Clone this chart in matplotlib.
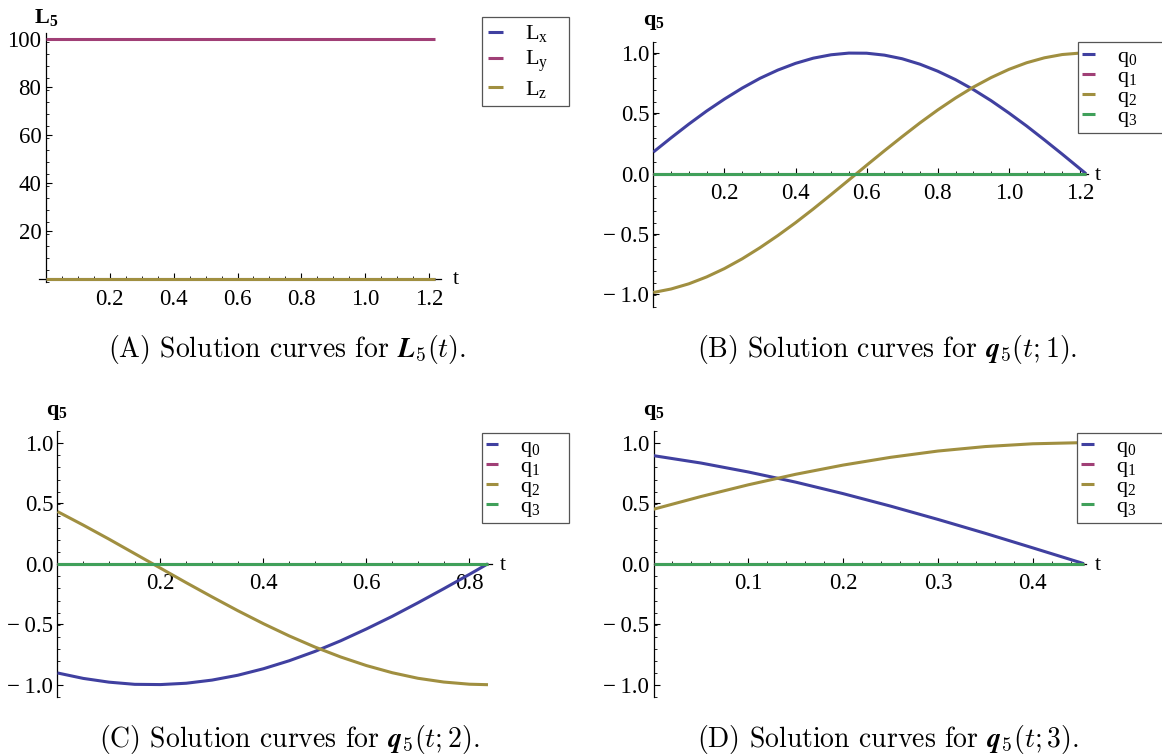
import numpy as np
import matplotlib
matplotlib.use("Agg")
import matplotlib.pyplot as plt
from matplotlib.ticker import FixedLocator, FixedFormatter, NullFormatter
from matplotlib.font_manager import FontProperties

plt.rcParams.update({
    "mathtext.fontset": "custom",
    "mathtext.rm": "Liberation Serif",
    "mathtext.it": "Liberation Serif:italic",
    "mathtext.bf": "Liberation Serif:bold",
    "font.family": "Liberation Serif",
})

# ---------------- data ----------------
# (A) angular momentum components
tA = [0.0, 1.218]
Lx = [0.0, 0.0]
Ly = [100.0, 100.0]
Lz = [0.0, 0.0]

# (B) quaternion components, case 1
tB = [0.00, 0.05, 0.10, 0.15, 0.20, 0.25, 0.30, 0.35, 0.40, 0.45, 0.50, 0.55,
      0.60, 0.65, 0.70, 0.75, 0.80, 0.85, 0.90, 0.95, 1.00, 1.05, 1.10, 1.15,
      1.20, 1.217]
q0B = [0.179, 0.297, 0.411, 0.519, 0.618, 0.709, 0.790, 0.858, 0.914, 0.957,
       0.985, 0.999, 0.998, 0.982, 0.952, 0.907, 0.849, 0.779, 0.697, 0.605,
       0.503, 0.395, 0.280, 0.162, 0.041, 0.000]
q2B = [-0.984, -0.955, -0.912, -0.855, -0.786, -0.705, -0.613, -0.513, -0.406,
       -0.292, -0.173, -0.052, 0.070, 0.190, 0.307, 0.421, 0.528, 0.627, 0.717,
       0.796, 0.864, 0.919, 0.960, 0.987, 0.999, 1.000]
tB_flat = [0.0, 1.217]
q1B = [0.0, 0.0]
q3B = [0.0, 0.0]

# (C) quaternion components, case 2
tC = [0.00, 0.05, 0.10, 0.15, 0.20, 0.25, 0.30, 0.35, 0.40, 0.45, 0.50, 0.55,
      0.60, 0.65, 0.70, 0.75, 0.80, 0.836]
q0C = [-0.903, -0.948, -0.979, -0.997, -0.999, -0.988, -0.962, -0.922, -0.868,
       -0.802, -0.725, -0.637, -0.539, -0.435, -0.323, -0.207, -0.088, 0.000]
q2C = [0.431, 0.319, 0.203, 0.083, -0.037, -0.157, -0.274, -0.388, -0.496,
       -0.597, -0.689, -0.771, -0.842, -0.901, -0.947, -0.978, -0.996, -1.000]
tC_flat = [0.0, 0.836]
q1C = [0.0, 0.0]
q3C = [0.0, 0.0]

# (D) quaternion components, case 3
tD = [0.00, 0.05, 0.10, 0.15, 0.20, 0.25, 0.30, 0.35, 0.40, 0.45, 0.454]
q0D = [0.893, 0.832, 0.758, 0.674, 0.579, 0.476, 0.366, 0.251, 0.131, 0.010, 0.000]
q2D = [0.450, 0.555, 0.652, 0.739, 0.815, 0.879, 0.931, 0.968, 0.991, 1.000, 1.000]
tD_flat = [0.0, 0.454]
q1D = [0.0, 0.0]
q3D = [0.0, 0.0]

# tick labels
L_yticks = [20, 40, 60, 80, 100]
L_ylabels = ["20", "40", "60", "80", "100"]
q_yticks = [-1.0, -0.5, 0.0, 0.5, 1.0]
q_ylabels = ["\u2212\u20091.0", "\u2212\u20090.5", "0.0", "0.5", "1.0"]
xticks_AB = [0.2, 0.4, 0.6, 0.8, 1.0, 1.2]
xlabels_AB = ["0.2", "0.4", "0.6", "0.8", "1.0", "1.2"]
xticks_C = [0.2, 0.4, 0.6, 0.8]
xlabels_C = ["0.2", "0.4", "0.6", "0.8"]
xticks_D = [0.1, 0.2, 0.3, 0.4]
xlabels_D = ["0.1", "0.2", "0.3", "0.4"]

L_names = [r"$\mathrm{L}_\mathrm{x}$", r"$\mathrm{L}_\mathrm{y}$", r"$\mathrm{L}_\mathrm{z}$"]
q_names = [r"$\mathrm{q}_0$", r"$\mathrm{q}_1$", r"$\mathrm{q}_2$", r"$\mathrm{q}_3$"]

COLORS = ["#4040a0", "#a03f76", "#a08f40", "#40a05a"]

# ---------------- layout ----------------
W, H = 1162, 756
fig = plt.figure(figsize=(W / 100, H / 100), dpi=100)

TICK_FP = FontProperties(family="Liberation Serif", size=16.5)
LEG_FP = FontProperties(family="Liberation Serif", size=16)
LW = 2.2


def minor_positions(lo, hi, step, majors):
    vals = np.round(np.arange(lo, hi + 1e-9, step), 6)
    return [v for v in vals if all(abs(v - m) > 1e-6 for m in majors) and abs(v) > 1e-9]


def panel(rect, xlim, ylim, xt, xl, xstep, yt, yl, ystep):
    l, t, r, b = rect
    ax = fig.add_axes([l / W, 1 - b / H, (r - l) / W, (b - t) / H])
    ax.set_xlim(*xlim)
    ax.set_ylim(*ylim)
    ax.patch.set_visible(False)
    for side in ("top", "right"):
        ax.spines[side].set_visible(False)
    for side in ("left", "bottom"):
        ax.spines[side].set_position(("data", 0))
        ax.spines[side].set_linewidth(0.9)
        ax.spines[side].set_zorder(1)
    ax.xaxis.set_major_locator(FixedLocator(xt))
    ax.xaxis.set_major_formatter(FixedFormatter(xl))
    ax.xaxis.set_minor_locator(FixedLocator(minor_positions(0, xlim[1], xstep, xt)))
    ax.xaxis.set_minor_formatter(NullFormatter())
    ax.yaxis.set_major_locator(FixedLocator(yt))
    ax.yaxis.set_major_formatter(FixedFormatter(yl))
    ax.yaxis.set_minor_locator(FixedLocator(minor_positions(ylim[0] if ylim[0] < -0.5 else 0,
                                                            ylim[1], ystep, yt)))
    ax.yaxis.set_minor_formatter(NullFormatter())
    ax.tick_params(which="both", direction="in", top=False, right=False, color="black")
    ax.tick_params(which="major", length=4.5, width=0.8)
    ax.tick_params(which="minor", length=2.5, width=0.6)
    ax.tick_params(axis="x", which="major", pad=7)
    ax.tick_params(axis="y", which="major", pad=3)
    for lab in ax.get_xticklabels() + ax.get_yticklabels():
        lab.set_fontproperties(TICK_FP)
    return ax


def legend(ax, x0, y0, w, hl, htp, ls, bp):
    leg = ax.legend(loc="upper left", bbox_to_anchor=(x0 / W, 1 - y0 / H, w / W, 0),
                    bbox_transform=fig.transFigure, mode="expand", borderaxespad=0,
                    fancybox=False, framealpha=1, edgecolor="#555555", prop=LEG_FP,
                    handlelength=hl, handletextpad=htp, labelspacing=ls, borderpad=bp)
    leg.get_frame().set_linewidth(0.9)
    return leg


def fig_text(x, y, s, **kw):
    fig.text(x / W, 1 - y / H, s, ha="center", va="center", **kw)


def curve(ax, t, v, color, label):
    ax.plot(t, v, color=color, lw=LW, label=label, zorder=3,
            solid_joinstyle="round", solid_capstyle="butt")


# (A)
axA = panel((38.8, 33.0, 441.0, 282.2), (-0.021, 1.236), (-1.2, 102.6),
            xticks_AB, xlabels_AB, 0.05, L_yticks, L_ylabels, 5)
for vals, name, c in zip([Lx, Ly, Lz], L_names, COLORS):
    curve(axA, tA, vals, c, name)
legend(axA, 481.7, 16.7, 87.5, 0.65, 1.0, 0.2, 0.3)
fig_text(46, 18, r"$\mathbf{L}_\mathbf{5}$", fontsize=16)
fig_text(456, 279, "t", fontsize=16)

# (B), (C), (D)
specs = [
    ((653.3, 41.5, 1087.8, 307.1), (0, 1.222), xticks_AB, xlabels_AB, 0.05,
     tB, q0B, q2B, tB_flat, q1B, q3B, 1078.3, 42.3, (654, 23), (1098, 176)),
    ((57.5, 431.2, 491.6, 697.4), (0, 0.843), xticks_C, xlabels_C, 0.05,
     tC, q0C, q2C, tC_flat, q1C, q3C, 481.5, 432.7, (57, 413), (503, 566)),
    ((653.5, 431.2, 1085.8, 697.4), (0, 0.456), xticks_D, xlabels_D, 0.02,
     tD, q0D, q2D, tD_flat, q1D, q3D, 1077.4, 432.7, (654, 413), (1098, 566)),
]
for (rect, xlim, xt, xl, xstep, t, q0, q2, tf, q1, q3, lx, ly, ylab, tlab) in specs:
    ax = panel(rect, xlim, (-1.105, 1.095), xt, xl, xstep, q_yticks, q_ylabels, 0.1)
    curve(ax, t, q0, COLORS[0], q_names[0])
    curve(ax, tf, q1, COLORS[1], q_names[1])
    curve(ax, t, q2, COLORS[2], q_names[2])
    curve(ax, tf, q3, COLORS[3], q_names[3])
    w = 87.5 if lx < 600 else 100
    legend(ax, lx, ly, w, 0.55, 1.0, -0.12, 0.18)
    fig_text(ylab[0], ylab[1], r"$\mathbf{q}_\mathbf{5}$", fontsize=16)
    fig_text(tlab[0], tlab[1], "t", fontsize=16)

# captions
captions = [
    (287, 349, r"(A) Solution curves for $\mathbfit{L}_5(t)$."),
    (887, 349, r"(B) Solution curves for $\mathbfit{q}_5(t;1)$."),
    (289, 740, r"(C) Solution curves for $\mathbfit{q}_5(t;2)$."),
    (888, 740, r"(D) Solution curves for $\mathbfit{q}_5(t;3)$."),
]
for x, y, s in captions:
    fig_text(x, y, s, fontsize=20, family="cmr10", math_fontfamily="cm")

fig.savefig("out.png", dpi=100)
